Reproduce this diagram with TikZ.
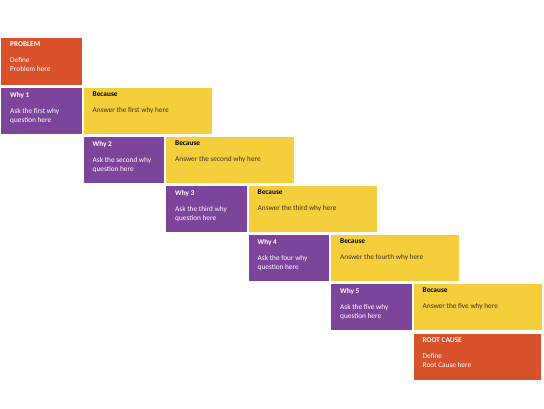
\documentclass[tikz,border=0pt]{standalone}
\usepackage{fontspec}
\setmainfont{Carlito}
\usepackage{xcolor}
\usetikzlibrary{positioning}

\definecolor{probred}{HTML}{D9512B}
\definecolor{whypurple}{HTML}{7D449B}
\definecolor{becyellow}{HTML}{F5CE3C}
\definecolor{becdark}{HTML}{3A3320}

\tikzset{
  box/.style={rectangle, fill=#1, inner sep=0pt, outer sep=0pt, minimum height=46pt},
  whybox/.style={box=whypurple, minimum width=80.5pt},
  becbox/.style={box=becyellow, minimum width=128pt},
  redbox/.style={box=probred},
  txt/.style={anchor=north west, align=left, inner sep=0pt,
    font=\fontsize{7.3}{9}\selectfont, text=#1},
}

\begin{document}
\begin{tikzpicture}[x=1pt, y=1pt]
            \useasboundingbox (0,0) rectangle (544,-408);
            % the boxes
            \node[redbox, minimum width=81pt, minimum height=47pt, anchor=north west] (problem) at (1,-38) {};
            \node[whybox, below=3pt of problem.south west, anchor=north west] (why1) {};
            \node[becbox, right=2pt of why1] (bec1) {};
            \node[whybox, below=3pt of bec1.south west, anchor=north west] (why2) {};
            \node[becbox, right=2pt of why2] (bec2) {};
            \node[whybox, below=3pt of bec2.south west, anchor=north west] (why3) {};
            \node[becbox, right=2pt of why3] (bec3) {};
            \node[whybox, below=3pt of bec3.south west, anchor=north west] (why4) {};
            \node[becbox, right=2pt of why4] (bec4) {};
            \node[whybox, below=3pt of bec4.south west, anchor=north west] (why5) {};
            \node[becbox, right=2pt of why5] (bec5) {};
            \node[redbox, minimum width=127pt, below=4pt of bec5.south west, anchor=north west] (root) {};
            % the texts
            \node[txt=white, below right=4pt and 9pt of problem.north west] (problemtext) {\textbf{PROBLEM}\\[7pt]Define\\Problem here};
            \node[txt=white, below right=4pt and 9pt of why1.north west] (why1text) {\textbf{Why 1}\\[7pt]Ask the first why\\question here};
            \node[txt=becdark, below right=4pt and 9pt of bec1.north west] (bec1text) {\textbf{\color{black}Because}\\[7pt]Answer the first why here};
            \node[txt=white, below right=4pt and 9pt of why2.north west] (why2text) {\textbf{Why 2}\\[7pt]Ask the second why\\question here};
            \node[txt=becdark, below right=4pt and 9pt of bec2.north west] (bec2text) {\textbf{\color{black}Because}\\[7pt]Answer the second why here};
            \node[txt=white, below right=4pt and 9pt of why3.north west] (why3text) {\textbf{Why 3}\\[7pt]Ask the third why\\question here};
            \node[txt=becdark, below right=4pt and 9pt of bec3.north west] (bec3text) {\textbf{\color{black}Because}\\[7pt]Answer the third why here};
            \node[txt=white, below right=4pt and 9pt of why4.north west] (why4text) {\textbf{Why 4}\\[7pt]Ask the four why\\question here};
            \node[txt=becdark, below right=4pt and 9pt of bec4.north west] (bec4text) {\textbf{\color{black}Because}\\[7pt]Answer the fourth why here};
            \node[txt=white, below right=4pt and 9pt of why5.north west] (why5text) {\textbf{Why 5}\\[7pt]Ask the five why\\question here};
            \node[txt=becdark, below right=4pt and 9pt of bec5.north west] (bec5text) {\textbf{\color{black}Because}\\[7pt]Answer the five why here};
            \node[txt=white, below right=4pt and 9pt of root.north west] (roottext) {\textbf{ROOT CAUSE}\\[7pt]Define\\Root Cause here};
        \end{tikzpicture}
\end{document}
